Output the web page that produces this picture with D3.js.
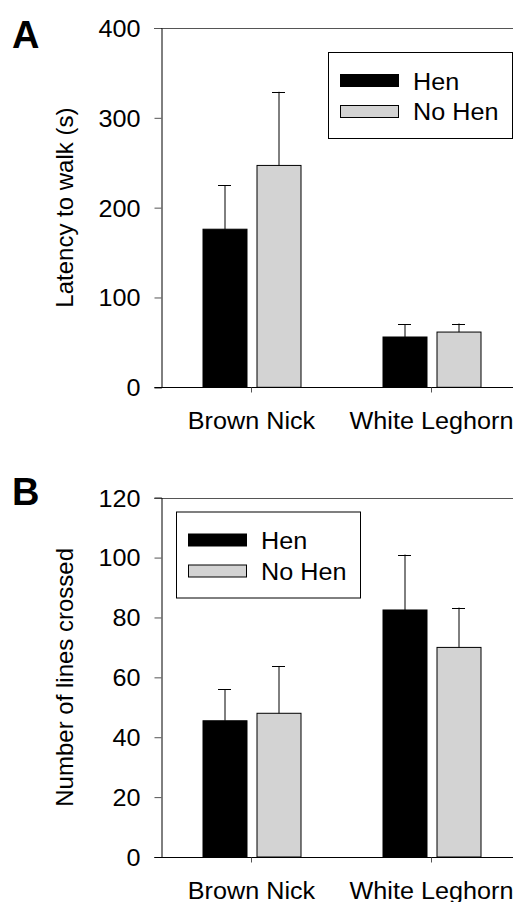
<!DOCTYPE html>
<html>
<head>
<meta charset="utf-8">
<script src="https://cdn.jsdelivr.net/npm/d3@7"></script>
<style>
  html, body { margin: 0; padding: 0; background: #fff; }
  svg { display: block; }
  text { font-family: "Liberation Sans", Arial, sans-serif; fill: #000; }
</style>
</head>
<body>
<svg id="chart"></svg>
<script>
// Data
const categories = ["Brown Nick", "White Leghorn"];
const series = ["Hen", "No Hen"];
const seriesColors = ["#000000", "#d3d3d3"];

// Panel A: latency to walk (s)
const latencyHen = [176, 56];
const latencyNoHen = [247, 61.5];
const latencyHenSE = [49, 14];
const latencyNoHenSE = [82, 9.5];
const latencyTicks = [0, 100, 200, 300, 400];

// Panel B: number of lines crossed
const linesHen = [45.5, 82.5];
const linesNoHen = [48, 70];
const linesHenSE = [10.5, 18.5];
const linesNoHenSE = [15.8, 13.3];
const linesTicks = [0, 20, 40, 60, 80, 100, 120];

const width = 513, height = 902;
const svg = d3.select("#chart").attr("width", width).attr("height", height);

const left = 161.5, right = 521.5;
const fontSize = 24;
const stretch = "scale(1.05,1)"; // the original's text is a little wide

// Draw one bar panel
function drawPanel(opts) {
    const g = svg.append("g");
    const y = d3.scaleLinear().domain(opts.domain).range([opts.bottom, opts.top]);
    const x0 = d3.scaleBand().domain(categories).range([left, right]);
    const x1 = d3.scaleBand().domain(series)
        .range([x0.bandwidth() / 2 - 49, x0.bandwidth() / 2 + 49])
        .paddingInner(10 / 54);

    const rows = categories.map((c, i) => ({
        cat: c,
        vals: [
            { s: series[0], v: opts.hen[i], e: opts.henSE[i], color: seriesColors[0] },
            { s: series[1], v: opts.noHen[i], e: opts.noHenSE[i], color: seriesColors[1] }
        ]
    }));

    // frame top line
    g.append("line")
        .attr("x1", left - 7).attr("x2", right)
        .attr("y1", Math.round(y(opts.domain[1])) + 0.5).attr("y2", Math.round(y(opts.domain[1])) + 0.5)
        .attr("stroke", "#555").attr("stroke-width", 1);

    // y axis
    const yAxis = g.append("g")
        .attr("transform", `translate(${left},0)`)
        .call(d3.axisLeft(y).tickValues(opts.ticks).tickSize(7).tickPadding(13).tickFormat(d3.format("d")));
    yAxis.select(".domain").attr("stroke", "#000");
    yAxis.selectAll(".tick line").attr("stroke", "#555");
    yAxis.selectAll(".tick text")
        .attr("font-size", fontSize)
        .attr("font-family", "Liberation Sans, Arial, sans-serif")
        .attr("fill", "#000")
        .attr("dy", "0.35em")
        .attr("transform", stretch);

    // bars
    const groups = g.append("g").selectAll("g")
        .data(rows)
        .join("g")
        .attr("transform", d => `translate(${x0(d.cat)},0)`);

    groups.selectAll("rect")
        .data(d => d.vals)
        .join("rect")
        .attr("x", d => Math.round(x1(d.s)) + 0.5)
        .attr("width", x1.bandwidth())
        .attr("y", d => y(d.v))
        .attr("height", d => y(0) - y(d.v))
        .attr("fill", d => d.color)
        .attr("stroke", "#000")
        .attr("stroke-width", 1);

    // error bars (upper only)
    groups.selectAll("line.err")
        .data(d => d.vals)
        .join("line")
        .attr("class", "err")
        .attr("x1", d => Math.round(x1(d.s) + x1.bandwidth() / 2) + 0.5)
        .attr("x2", d => Math.round(x1(d.s) + x1.bandwidth() / 2) + 0.5)
        .attr("y1", d => y(d.v))
        .attr("y2", d => y(d.v + d.e))
        .attr("stroke", "#000");

    groups.selectAll("line.cap")
        .data(d => d.vals)
        .join("line")
        .attr("class", "cap")
        .attr("x1", d => x1(d.s) + x1.bandwidth() / 2 - 6.5)
        .attr("x2", d => x1(d.s) + x1.bandwidth() / 2 + 6.5)
        .attr("y1", d => Math.round(y(d.v + d.e)) + 0.5)
        .attr("y2", d => Math.round(y(d.v + d.e)) + 0.5)
        .attr("stroke", "#000");

    // x axis
    const xAxis = g.append("g")
        .attr("transform", `translate(0,${Math.round(y(0)) + 0.5})`)
        .call(d3.axisBottom(x0).tickSize(5).tickSizeOuter(0).tickPadding(19));
    xAxis.select(".domain").attr("stroke", "#000").attr("d", `M${left - 7},0H${right}`);
    xAxis.selectAll(".tick line").attr("stroke", "#555");
    xAxis.selectAll(".tick text")
        .attr("font-size", fontSize)
        .attr("font-family", "Liberation Sans, Arial, sans-serif")
        .attr("fill", "#000")
        .attr("transform", stretch);

    // y axis title
    g.append("text")
        .attr("transform", `translate(73,${(opts.top + opts.bottom) / 2}) rotate(-90)`)
        .attr("text-anchor", "middle")
        .attr("font-size", fontSize)
        .text(opts.title);

    // panel letter
    g.append("text")
        .attr("x", 12)
        .attr("y", opts.letterY)
        .attr("font-size", 38)
        .attr("font-weight", "bold")
        .text(opts.letter);

    // legend
    const lg = g.append("g").attr("transform", `translate(${opts.legend[0]},${opts.legend[1]})`);
    lg.append("rect")
        .attr("x", 0.5).attr("y", 0.5)
        .attr("width", 184).attr("height", 86)
        .attr("fill", "#fff").attr("stroke", "#000");
    series.forEach((s, i) => {
        lg.append("rect")
            .attr("x", 12.5).attr("y", 22.5 + i * 31)
            .attr("width", 58).attr("height", 12)
            .attr("fill", seriesColors[i]).attr("stroke", "#000");
        lg.append("text")
            .attr("transform", `translate(85,${37.5 + i * 30.5}) ${stretch}`)
            .attr("font-size", fontSize)
            .text(s);
    });
}

drawPanel({
    domain: [0, 400], ticks: latencyTicks, top: 28, bottom: 387.3,
    hen: latencyHen, noHen: latencyNoHen, henSE: latencyHenSE, noHenSE: latencyNoHenSE,
    title: "Latency to walk (s)", letter: "A", letterY: 47.5,
    legend: [328, 52]
});

drawPanel({
    domain: [0, 120], ticks: linesTicks, top: 497.7, bottom: 857,
    hen: linesHen, noHen: linesNoHen, henSE: linesHenSE, noHenSE: linesNoHenSE,
    title: "Number of lines crossed", letter: "B", letterY: 505,
    legend: [176, 511.5]
});
</script>
</body>
</html>
